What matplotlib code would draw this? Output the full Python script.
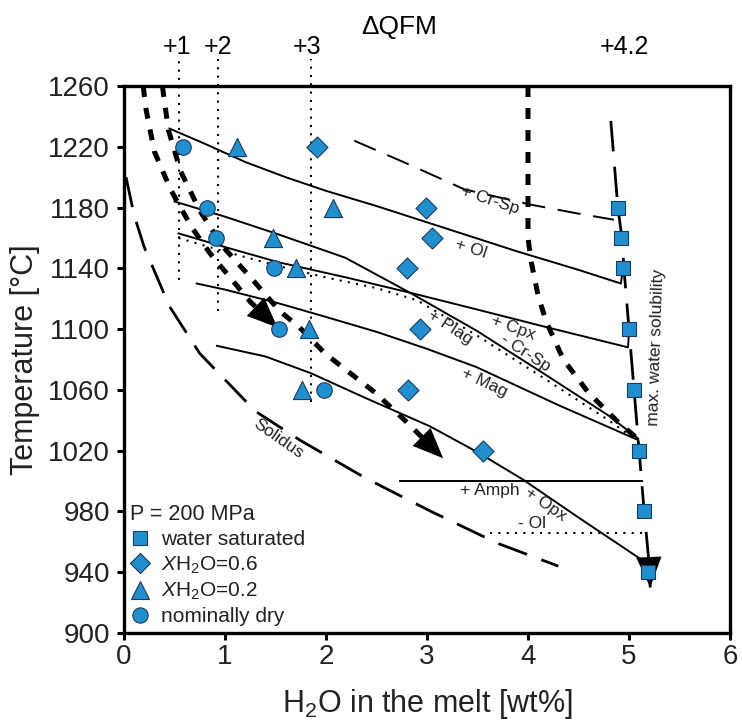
import matplotlib
matplotlib.use('Agg')
import matplotlib.pyplot as plt
from matplotlib.lines import Line2D

plt.rcParams['font.family'] = ['Liberation Sans', 'DejaVu Sans']
plt.rcParams['mathtext.fontset'] = 'custom'
plt.rcParams['mathtext.rm'] = 'Liberation Sans'
plt.rcParams['mathtext.it'] = 'Liberation Sans:italic'

# experimental runs (H2O in melt [wt%], T [degC])
sat_h2o = [4.89, 4.92, 4.94, 5.00, 5.05, 5.10, 5.15, 5.19]
sat_t = [1180, 1160, 1140, 1100, 1060, 1020, 980, 940]
x06_h2o = [1.91, 2.99, 3.05, 2.80, 2.93, 2.81, 3.55]
x06_t = [1220, 1180, 1160, 1140, 1100, 1060, 1020]
x02_h2o = [1.12, 2.07, 1.48, 1.70, 1.83, 1.76]
x02_t = [1220, 1180, 1160, 1140, 1100, 1060]
dry_h2o = [0.58, 0.82, 0.91, 1.49, 1.53, 1.98]
dry_t = [1220, 1180, 1160, 1140, 1100, 1060]

# phase boundaries
ol_x = [0.45, 0.8, 1.2, 1.6, 2.0, 2.5, 3.2, 3.9, 4.5, 4.92, 4.94]
ol_t = [1232, 1222, 1210, 1200, 1191, 1181, 1166, 1151, 1139, 1130, 1140]
plag_x = [0.50, 1.0, 1.5, 2.19, 2.83, 3.49, 4.15, 4.80, 5.09]
plag_t = [1184, 1174, 1163, 1147, 1124, 1099, 1071, 1043, 1028]
cpx_x = [0.54, 1.0, 1.53, 2.2, 2.83, 3.49, 4.2, 4.99, 5.0]
cpx_t = [1163, 1154, 1144, 1134, 1124, 1113, 1101, 1088, 1098]
crsp_out_x = [0.54, 1.0, 1.5, 2.0, 2.5, 2.9, 3.49, 4.15, 4.8, 5.07]
crsp_out_t = [1160, 1151, 1142, 1134, 1127, 1119, 1096, 1068, 1040, 1027]
mag_x = [0.72, 1.0, 1.53, 2.0, 2.51, 3.0, 3.49, 4.3, 5.09]
mag_t = [1130, 1126, 1117, 1108, 1098, 1087, 1075, 1050, 1027]
opx_x = [0.92, 1.4, 1.85, 2.38, 3.03, 3.5, 3.95, 4.5, 5.13]
opx_t = [1089, 1082, 1071, 1055, 1036, 1019, 1001, 976, 948]
amph_x = [2.73, 5.13]
amph_t = [1000, 1000]
ol_out_x = [3.62, 5.18]
ol_out_t = [966, 966]
crsp_x = [2.28, 2.8, 3.37, 4.02, 4.5, 4.85]
crsp_t = [1224, 1209, 1192, 1182, 1176, 1172]
solidus_x = [0.02, 0.1, 0.2, 0.45, 0.75, 1.3, 1.74, 2.39, 3.04, 3.7, 4.3]
solidus_t = [1200, 1175, 1154, 1115, 1084, 1046, 1027, 1002, 980, 959, 944]
watersol_x = [4.82, 4.89, 4.93, 4.95, 5.0, 5.05, 5.1, 5.15, 5.2, 5.21]
watersol_t = [1237, 1180, 1160, 1140, 1100, 1060, 1020, 980, 945, 930]

# fractionation / crystallisation paths
path1_x = [0.19, 0.22, 0.30, 0.46, 0.67, 0.85, 1.05, 1.25, 1.52]
path1_t = [1260, 1244, 1217, 1192, 1167, 1150, 1134, 1118, 1101]
path2_x = [0.38, 0.44, 0.56, 0.75, 0.97, 1.28, 1.54, 1.74, 1.99, 2.49, 2.78, 3.16]
path2_t = [1260, 1231, 1204, 1178, 1155, 1132, 1112, 1101, 1084, 1058, 1040, 1015]
path3_x = [4.0, 4.0, 4.03, 4.1, 4.18, 4.35, 4.6, 4.89, 5.1]
path3_t = [1260, 1160, 1145, 1122, 1105, 1080, 1058, 1039, 1027]

# oxygen fugacity
qfm_x = [0.54, 0.93, 1.85]
qfm_tmin = [1132, 1112, 1052]
qfm_labels = ['+1', '+2', '+3', '+4.2']
qfm_label_x = [0.52, 0.93, 1.81, 4.95]

blue = '#1f8fd0'
edge = '#1b3a5c'

fig = plt.figure(figsize=(7.42, 7.22), dpi=100)
ax = fig.add_axes([124 / 742, 89 / 722, 606 / 742, 547 / 722])

# phase boundaries
for xs, ts in [(ol_x, ol_t), (plag_x, plag_t), (cpx_x, cpx_t), (mag_x, mag_t),
               (opx_x, opx_t), (amph_x, amph_t)]:
    ax.plot(xs, ts, color='k', lw=1.4, zorder=2)
ax.plot(crsp_out_x, crsp_out_t, color='k', lw=1.5, ls=(0, (1, 3)), zorder=2)
ax.plot(ol_out_x, ol_out_t, color='k', lw=1.5, ls=(0, (1, 3)), zorder=2)
ax.plot(crsp_x, crsp_t, color='k', lw=1.4, ls=(0, (12, 6.5)), zorder=2)
ax.plot(solidus_x, solidus_t, color='k', lw=2.0, ls=(0, (11, 5.5)), zorder=2)
ax.plot(watersol_x, watersol_t, color='k', lw=2.0, ls=(0, (11, 5.5)), zorder=2)

# paths
for xs, ts in [(path1_x, path1_t), (path2_x, path2_t), (path3_x, path3_t)]:
    ax.plot(xs, ts, color='k', lw=3.6, ls=(0, (2.2, 2.2)), zorder=2)

# arrow heads
for xs, ts in [(path1_x, path1_t), (path2_x, path2_t), (watersol_x, watersol_t)]:
    ax.annotate('', xy=(xs[-1], ts[-1]), xytext=(xs[-2], ts[-2]),
                arrowprops=dict(arrowstyle='-|>,head_length=1.15,head_width=0.48',
                                mutation_scale=19, fc='k', ec='k', lw=0,
                                shrinkA=0, shrinkB=0), zorder=4)

# QFM dotted verticals
for qx, qt in zip(qfm_x, qfm_tmin):
    ax.plot([qx, qx], [qt, 1278], color='k', lw=1.5, ls=(0, (1, 3)),
            clip_on=False, zorder=1)

# experiments
ax.scatter(sat_h2o, sat_t, marker='s', s=105, c=blue, edgecolors=edge, linewidths=0.8, zorder=5)
ax.scatter(x06_h2o, x06_t, marker='D', s=115, c=blue, edgecolors=edge, linewidths=0.8, zorder=5)
ax.scatter(x02_h2o, x02_t, marker='^', s=170, c=blue, edgecolors=edge, linewidths=0.8, zorder=5)
ax.scatter(dry_h2o, dry_t, marker='o', s=125, c=blue, edgecolors=edge, linewidths=0.8, zorder=5)

# labels on lines
lab = dict(fontsize=12.5, ha='center', va='center', rotation_mode='anchor', color='#222222')
ax.text(3.62, 1185, '+ Cr-Sp', rotation=-18, **lab)
ax.text(3.43, 1153, '+ Ol', rotation=-18, **lab)
ax.text(3.23, 1101, '+ Plag', rotation=-33, **lab)
ax.text(3.85, 1101, '+ Cpx', rotation=-20, **lab)
ax.text(3.98, 1084, '- Cr-Sp', rotation=-33, **lab)
ax.text(3.57, 1065, '+ Mag', rotation=-25, **lab)
ax.text(1.53, 1028, 'Solidus', rotation=-35, **lab)
ax.text(3.62, 994, '+ Amph', rotation=0, **lab)
ax.text(4.17, 985, '+ Opx', rotation=-35, **lab)
ax.text(4.04, 972, '- Ol', rotation=0, **lab)
ax.text(5.27, 1088, 'max. water solubility', rotation=88, **lab)

# top QFM labels
for s, qx in zip(qfm_labels, qfm_label_x):
    ax.text(qx, 1.071, s, transform=ax.get_xaxis_transform(), fontsize=18,
            ha='center', va='center')
ax.text(2.72, 1.108, 'ΔQFM', transform=ax.get_xaxis_transform(), fontsize=19,
        ha='center', va='center')

# legend
handles = [
    Line2D([], [], marker='s', ls='none', ms=10, mfc=blue, mec=edge, mew=0.8),
    Line2D([], [], marker='D', ls='none', ms=10.5, mfc=blue, mec=edge, mew=0.8),
    Line2D([], [], marker='^', ls='none', ms=13, mfc=blue, mec=edge, mew=0.8),
    Line2D([], [], marker='o', ls='none', ms=11, mfc=blue, mec=edge, mew=0.8),
]
labels = ['water saturated', r'$\mathit{X}$H$_2$O=0.6', r'$\mathit{X}$H$_2$O=0.2', 'nominally dry']
leg = ax.legend(handles, labels, loc='lower left', bbox_to_anchor=(0.01, 0.012),
                frameon=False, fontsize=15, title='P = 200 MPa', title_fontsize=15.5,
                alignment='left', handlelength=1.0, handletextpad=0.5,
                labelspacing=0.25, borderpad=0, borderaxespad=0)
for t in leg.get_texts():
    t.set_color('#222222')
leg.get_title().set_color('#222222')

ax.set_xlim(0, 6)
ax.set_ylim(900, 1260)
ax.set_xticks(range(0, 7))
ax.set_yticks(range(900, 1261, 40))
ax.tick_params(direction='out', width=2.2, length=5, labelsize=20, pad=3,
               colors='k', labelcolor='#222222')
ax.tick_params(axis='y', pad=5)
for sp in ax.spines.values():
    sp.set_linewidth(2.4)

ax.set_xlabel(r'H$_2$O in the melt [wt%]', fontsize=22, color='#222222', labelpad=12)
ax.set_ylabel('Temperature [°C]', fontsize=22, color='#222222', labelpad=6)

fig.savefig('out.png', dpi=100)
